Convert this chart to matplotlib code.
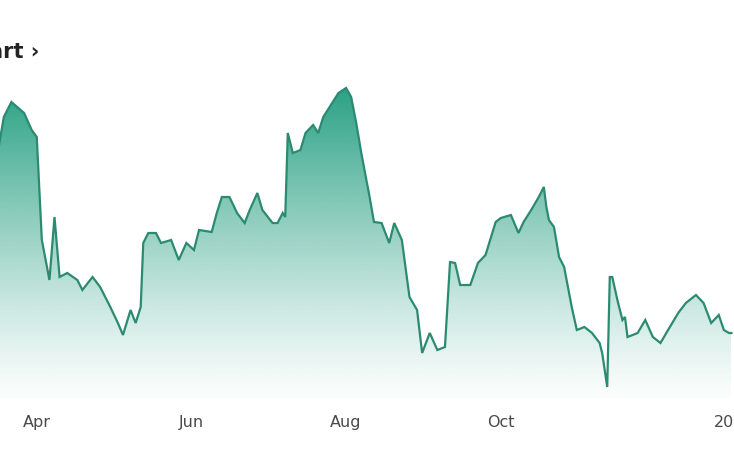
import numpy as np
import pandas as pd
from matplotlib import pyplot as plt
from matplotlib.colors import to_rgb

dates = [
    "2024-03-17", "2024-03-19", "2024-03-22", "2024-03-27", "2024-03-30",
    "2024-04-01", "2024-04-03", "2024-04-06", "2024-04-08", "2024-04-10",
    "2024-04-13", "2024-04-17", "2024-04-19", "2024-04-23", "2024-04-26",
    "2024-04-30", "2024-05-03", "2024-05-05", "2024-05-08", "2024-05-10",
    "2024-05-12", "2024-05-13", "2024-05-15", "2024-05-18", "2024-05-20",
    "2024-05-24", "2024-05-27", "2024-05-30", "2024-06-02", "2024-06-04",
    "2024-06-09", "2024-06-11", "2024-06-13", "2024-06-16", "2024-06-19",
    "2024-06-22", "2024-06-24", "2024-06-27", "2024-06-29", "2024-07-03",
    "2024-07-05", "2024-07-07", "2024-07-08", "2024-07-09", "2024-07-11",
    "2024-07-14", "2024-07-16", "2024-07-19", "2024-07-21", "2024-07-23",
    "2024-07-26", "2024-07-29", "2024-08-01", "2024-08-03", "2024-08-05",
    "2024-08-07", "2024-08-09", "2024-08-10", "2024-08-12", "2024-08-15",
    "2024-08-18", "2024-08-20", "2024-08-23", "2024-08-26", "2024-08-29",
    "2024-08-31", "2024-09-03", "2024-09-06", "2024-09-09", "2024-09-11",
    "2024-09-13", "2024-09-15", "2024-09-19", "2024-09-22", "2024-09-25",
    "2024-09-29", "2024-10-01", "2024-10-05", "2024-10-08", "2024-10-10",
    "2024-10-13", "2024-10-16", "2024-10-18", "2024-10-19", "2024-10-20",
    "2024-10-22", "2024-10-24", "2024-10-26", "2024-10-29", "2024-10-31",
    "2024-11-03", "2024-11-06", "2024-11-09", "2024-11-10", "2024-11-12",
    "2024-11-13", "2024-11-14", "2024-11-16", "2024-11-18", "2024-11-19",
    "2024-11-20", "2024-11-24", "2024-11-27", "2024-11-30", "2024-12-03",
    "2024-12-06", "2024-12-10", "2024-12-13", "2024-12-17", "2024-12-20",
    "2024-12-23", "2024-12-26", "2024-12-28", "2024-12-30", "2024-12-31",
]
prices = [
    31.1, 34.1, 35.6, 34.5, 32.8,
    32.1, 21.8, 17.8, 24.1, 18.1,
    18.5, 17.8, 16.8, 18.1, 17.1,
    15.1, 13.5, 12.3, 14.8, 13.5,
    15.1, 21.5, 22.5, 22.5, 21.5,
    21.8, 19.8, 21.5, 20.8, 22.8,
    22.6, 24.5, 26.1, 26.1, 24.5,
    23.5, 24.8, 26.5, 24.8, 23.5,
    23.5, 24.5, 24.1, 32.5, 30.5,
    30.8, 32.5, 33.3, 32.5, 34.1,
    35.3, 36.5, 37.0, 36.1, 33.5,
    30.5, 27.8, 26.5, 23.6, 23.5,
    21.5, 23.5, 21.8, 16.1, 14.8,
    10.5, 12.5, 10.8, 11.1, 19.6,
    19.5, 17.3, 17.3, 19.5, 20.3,
    23.6, 24.0, 24.3, 22.5, 23.6,
    24.8, 26.1, 27.1, 25.1, 23.8,
    23.1, 20.1, 19.1, 15.1, 12.8,
    13.1, 12.5, 11.5, 10.5, 7.1,
    18.1, 18.1, 15.8, 13.8, 14.1,
    12.1, 12.5, 13.8, 12.1, 11.5,
    12.8, 14.5, 15.5, 16.3, 15.5,
    13.5, 14.3, 12.8, 12.5, 12.5,
]

tick_dates = ["2024-04-01", "2024-06-01", "2024-08-01", "2024-10-01", "2025-01-01"]
tick_labels = ["Apr", "Jun", "Aug", "Oct", "2025"]

LINE = "#2b8a70"
FILL = "#1f9c7e"

x = pd.to_datetime(dates)
y = np.array(prices)

fig = plt.figure(figsize=(7.34, 4.58), dpi=100)
ax = fig.add_axes([0, 60 / 458, 1, 398 / 458])

ymin, ymax = 6.0, 45.8
start = pd.Timestamp("2024-04-01")
xmin = start - pd.Timedelta(days=14.5)
xmax = start + pd.Timedelta(days=273.8)
ax.set_xlim(xmin, xmax)
ax.set_ylim(ymin, ymax)

# gradient under the line, clipped to the area polygon
poly = ax.fill_between(x, y, ymin, color="none", lw=0)
grad = np.zeros((256, 1, 4))
grad[:, :, :3] = to_rgb(FILL)
top_level = y.max()
levels = np.linspace(ymax, ymin, 256)
alpha = np.clip((levels - ymin) / (top_level - ymin), 0, 1)
grad[:, 0, 3] = 0.02 + 0.93 * alpha ** 1.2
img = ax.imshow(grad, aspect="auto", origin="upper",
                extent=[ax.get_xlim()[0], ax.get_xlim()[1], ymin, ymax],
                zorder=1)
img.set_clip_path(poly.get_paths()[0], transform=ax.transData)

ax.plot(x, y, color=LINE, lw=1.6, zorder=2, solid_joinstyle="miter")

ax.set_xticks(pd.to_datetime(tick_dates))
ax.set_xticklabels(tick_labels)
ax.tick_params(axis="x", length=0, pad=12, labelsize=11.5, labelcolor="#4a4a4a")
ax.set_yticks([])
for side in ax.spines.values():
    side.set_visible(False)

fig.text(39 / 734, 1 - 52 / 458, "Chart \u203a", ha="right", va="center",
         fontsize=15, fontweight="bold", color="#222222")

fig.savefig("out.png", dpi=100)
